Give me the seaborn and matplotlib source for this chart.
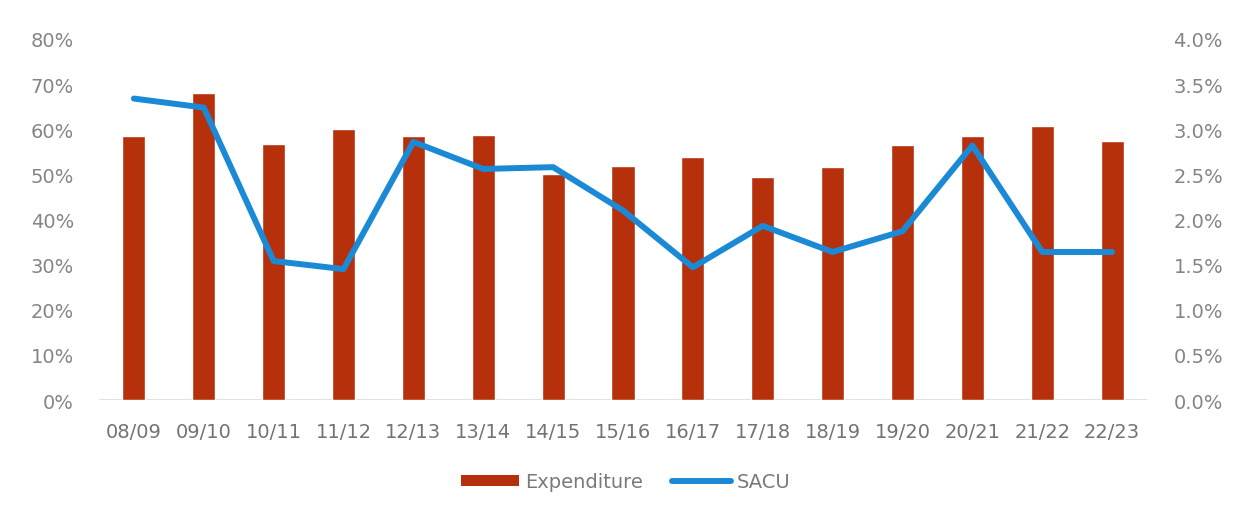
import matplotlib
matplotlib.use("Agg")
import matplotlib.pyplot as plt
import seaborn as sns
import pandas as pd
from matplotlib.ticker import PercentFormatter, MultipleLocator
from matplotlib.patches import Patch
from matplotlib.lines import Line2D

years = ["08/09", "09/10", "10/11", "11/12", "12/13", "13/14", "14/15", "15/16",
         "16/17", "17/18", "18/19", "19/20", "20/21", "21/22", "22/23"]
expenditure = [58.5, 68.1, 56.8, 60.1, 58.6, 58.8, 50.1, 51.8, 53.9, 49.4,
               51.7, 56.5, 58.5, 60.8, 57.5]
sacu = [3.34, 3.24, 1.54, 1.45, 2.86, 2.56, 2.58, 2.10, 1.47, 1.93,
        1.64, 1.87, 2.82, 1.64, 1.64]

bar_color = "#B6300B"
line_color = "#1B8AD6"
text_color = "#858585"

sns.set_theme(style="white")
plt.rcParams["font.family"] = ["DejaVu Sans"]

df = pd.DataFrame({"year": years, "Expenditure": expenditure, "SACU": sacu})

fig = plt.figure(figsize=(12.34, 5.10), dpi=100)
ax = fig.add_axes([0.0802, 0.2137, 0.8493, 0.7079])

sns.barplot(data=df, x="year", y="Expenditure", color=bar_color, width=0.33,
            saturation=1, ax=ax)
ax.set_ylim(0, 80)
ax.set_xlim(-0.5, len(years) - 0.5)
ax.yaxis.set_major_locator(MultipleLocator(10))
ax.yaxis.set_major_formatter(PercentFormatter(decimals=0))

ax2 = ax.twinx()
sns.lineplot(data=df, x="year", y="SACU", color=line_color, linewidth=4.3,
             sort=False, ax=ax2)
ax2.set_ylim(0, 4)
ax2.yaxis.set_major_locator(MultipleLocator(0.5))
ax2.yaxis.set_major_formatter(PercentFormatter(decimals=1))

for a in (ax, ax2):
    a.set_xlabel("")
    a.set_ylabel("")
    for s in a.spines.values():
        s.set_visible(False)
    a.tick_params(axis="both", length=0, labelsize=14, colors=text_color)
    a.grid(False)

ax.tick_params(axis="x", pad=16, labelcolor="#737373")
ax.tick_params(axis="y", pad=18)
ax2.tick_params(axis="y", pad=19)
ax.axhline(0, color="#DCDCDC", linewidth=1.2, zorder=0)

handles = [Patch(facecolor=bar_color, edgecolor="none", label="Expenditure"),
           Line2D([0], [0], color=line_color, linewidth=4.3, label="SACU")]
fig.legend(handles=handles, loc="center", bbox_to_anchor=(0.507, 0.053), ncol=2,
           frameon=False, fontsize=14, labelcolor="#7A7A7A",
           handlelength=3.0, handleheight=0.5, handletextpad=0.3, columnspacing=1.5)

fig.savefig("out.png", dpi=100)
